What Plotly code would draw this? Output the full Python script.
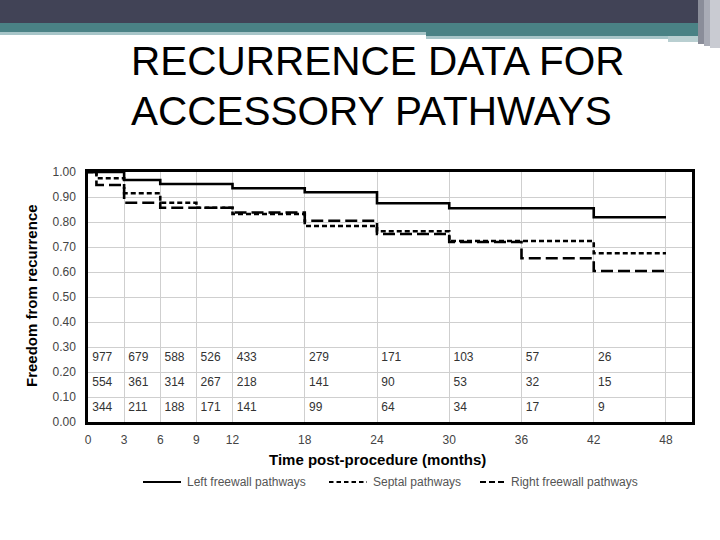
import plotly.graph_objects as go

# ---- data ----
left_t = [0, 3, 6, 12, 18, 24, 30, 42, 48]
left_v = [1.00, 0.968, 0.952, 0.935, 0.919, 0.875, 0.855, 0.819, 0.819]

septal_t = [0, 0.7, 3, 6, 9, 12, 18, 24, 30, 42, 48]
septal_v = [1.00, 0.975, 0.915, 0.877, 0.857, 0.832, 0.784, 0.763, 0.724, 0.675, 0.675]

right_t = [0, 0.7, 3, 6, 12, 18, 24, 30, 36, 42, 48]
right_v = [1.00, 0.948, 0.877, 0.857, 0.838, 0.805, 0.752, 0.720, 0.655, 0.604, 0.604]

risk_t = [0, 3, 6, 9, 12, 18, 24, 30, 36, 42]
left_n = [977, 679, 588, 526, 433, 279, 171, 103, 57, 26]
septal_n = [554, 361, 314, 267, 218, 141, 90, 53, 32, 15]
right_n = [344, 211, 188, 171, 141, 99, 64, 34, 17, 9]

x_ticks = [0, 3, 6, 9, 12, 18, 24, 30, 36, 42, 48]
y_ticks = [0.0, 0.1, 0.2, 0.3, 0.4, 0.5, 0.6, 0.7, 0.8, 0.9, 1.0]

series_names = ["Left freewall pathways", "Septal pathways", "Right freewall pathways"]
title_lines = ["RECURRENCE DATA FOR", "ACCESSORY PATHWAYS"]
x_title = "Time post-procedure (months)"
y_title = "Freedom from recurrence"

# ---- layout geometry (pixels) ----
W, H = 720, 540
L, R, T, B = 88, 692, 172, 422


def px(xp):
    return (xp - L) / (R - L)


def py(yp):
    return (B - yp) / (B - T)


FONT = "Liberation Sans, Arial, sans-serif"
dashes = ["solid", "5px,3px", "12px,5px"]

fig = go.Figure()
for t, v, name, d in zip([left_t, septal_t, right_t], [left_v, septal_v, right_v],
                         series_names, dashes):
    fig.add_trace(go.Scatter(x=t, y=v, mode="lines", line_shape="hv",
                             line=dict(color="black", width=2.6, dash=d), name=name,
                             showlegend=False))

# numbers at risk
for row_y, counts in [(0.255, left_n), (0.155, septal_n), (0.055, right_n)]:
    fig.add_trace(go.Scatter(x=[t + 0.35 for t in risk_t], y=[row_y] * len(risk_t),
                             mode="text", text=[str(c) for c in counts],
                             textposition="middle right",
                             textfont=dict(family=FONT, size=12, color="#333333"),
                             showlegend=False, hoverinfo="skip"))

shapes = [
    # header bands
    dict(type="rect", xref="paper", yref="paper", x0=px(0), x1=px(720), y0=py(0), y1=py(23),
         fillcolor="#414356", line_width=0, layer="above"),
    dict(type="rect", xref="paper", yref="paper", x0=px(0), x1=px(720), y0=py(23), y1=py(32),
         fillcolor="#4a8285", line_width=0, layer="above"),
    dict(type="rect", xref="paper", yref="paper", x0=px(0), x1=px(426), y0=py(32), y1=py(35),
         fillcolor="#a7c5c8", line_width=0, layer="above"),
    dict(type="rect", xref="paper", yref="paper", x0=px(426), x1=px(698), y0=py(32), y1=py(36),
         fillcolor="#4a8285", line_width=0, layer="above"),
    dict(type="rect", xref="paper", yref="paper", x0=px(426), x1=px(668), y0=py(36), y1=py(39),
         fillcolor="#a7c5c8", line_width=0, layer="above"),
    dict(type="rect", xref="paper", yref="paper", x0=px(668), x1=px(698), y0=py(36), y1=py(42),
         fillcolor="#b9cfd1", line_width=0, layer="above"),
    dict(type="rect", xref="paper", yref="paper", x0=px(698), x1=px(704), y0=py(0), y1=py(44),
         fillcolor="#8a8d99", line_width=0, layer="above"),
    dict(type="rect", xref="paper", yref="paper", x0=px(704), x1=px(710), y0=py(0), y1=py(46),
         fillcolor="#a9acb6", line_width=0, layer="above"),
    dict(type="rect", xref="paper", yref="paper", x0=px(710), x1=px(720), y0=py(0), y1=py(48),
         fillcolor="#c9cbd2", line_width=0, layer="above"),
]

# legend (drawn below the plot)
legend_y = 482
legend_items = [
    (143, 181, "solid", 185),
    (329, 367, "4.5px,3px", 371),
    (480, 504, "6px,3px", 509),
]
annotations = []
for (x0, x1, d, tx), name in zip(legend_items, series_names):
    shapes.append(dict(type="line", xref="paper", yref="paper", x0=px(x0), x1=px(x1),
                       y0=py(legend_y), y1=py(legend_y),
                       line=dict(color="black", width=2, dash=d)))
    annotations.append(dict(text=name, xref="paper", yref="paper", x=px(tx), y=py(legend_y),
                            xanchor="left", yanchor="middle", showarrow=False,
                            font=dict(family=FONT, size=12, color="#555555")))

annotations += [
    dict(text=title_lines[0], xref="paper", yref="paper", x=px(129), y=py(61),
         xanchor="left", yanchor="middle", showarrow=False,
         font=dict(family=FONT, size=40.5, color="black")),
    dict(text=title_lines[1], xref="paper", yref="paper", x=px(129), y=py(111),
         xanchor="left", yanchor="middle", showarrow=False,
         font=dict(family=FONT, size=40.5, color="black")),
    dict(text="<b>" + x_title + "</b>", xref="paper", yref="paper", x=px(377), y=py(459),
         xanchor="center", yanchor="middle", showarrow=False,
         font=dict(family=FONT, size=15, color="black")),
    dict(text="<b>" + y_title + "</b>", xref="paper", yref="paper", x=px(31), y=py(296),
         xanchor="center", yanchor="middle", showarrow=False, textangle=-90,
         font=dict(family=FONT, size=15, color="black")),
]

fig.update_layout(
    width=W, height=H,
    margin=dict(l=L, r=W - R, t=T, b=H - B, pad=0),
    paper_bgcolor="white", plot_bgcolor="white",
    font=dict(family=FONT, size=12, color="#444444"),
    shapes=shapes, annotations=annotations,
    showlegend=False,
)
fig.update_xaxes(range=[0, 50.16], tickmode="array", tickvals=x_ticks,
                 ticktext=[str(v) for v in x_ticks], showgrid=True, gridcolor="#cfcfcf",
                 gridwidth=1, showline=True, linecolor="black", linewidth=2.5, mirror=True,
                 zeroline=False, ticks="", ticklabelstandoff=5,
                 tickfont=dict(family=FONT, size=12, color="#444444"))
fig.update_yaxes(range=[0, 1.0], tickmode="array", tickvals=y_ticks,
                 ticktext=["%.2f" % v for v in y_ticks], showgrid=True, gridcolor="#cfcfcf",
                 gridwidth=1, showline=True, linecolor="black", linewidth=2.5, mirror=True,
                 zeroline=False, ticks="", ticklabelstandoff=7,
                 tickfont=dict(family=FONT, size=12, color="#444444"))

fig.write_html("out.html", config={"displayModeBar": False},
               post_script="document.body.style.margin='0';")
